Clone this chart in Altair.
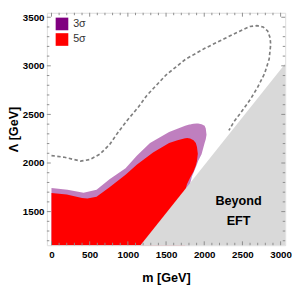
import altair as alt
import pandas as pd

# ---------------- data ----------------
# 5 sigma region (red): upper boundary and lower boundary vs m
red_m     = [0, 200, 400, 470, 590, 760, 970, 1120, 1330, 1540, 1650, 1750, 1760, 1775, 1815, 1860, 1890, 1905, 1916]
red_upper = [1691, 1677, 1640, 1634, 1652, 1750, 1880, 1985, 2108, 2205, 2235, 2254, 2256, 2257, 2252, 2235, 2205, 2165, 2095]
red_lower = [1154, 1154, 1154, 1154, 1154, 1154, 1154, 1154, 1154, 1154, 1154, 1154, 1740, 1783, 1847, 1912, 1975, 2020, 2095]

# 3 sigma region (purple)
pur_m     = [0, 210, 420, 590, 760, 970, 1120, 1290, 1540, 1750, 1805, 1815, 1840, 1860, 1900, 1920, 1965, 2005, 2020, 2030]
pur_upper = [1744, 1724, 1695, 1724, 1832, 1945, 2076, 2205, 2320, 2384, 2395, 2397, 2401, 2403, 2407, 2407, 2400, 2384, 2355, 2290]
pur_lower = [1154, 1154, 1154, 1154, 1154, 1154, 1154, 1154, 1154, 1154, 1154, 1790, 1864, 1900, 1978, 2020, 2091, 2205, 2245, 2290]

# dashed contour
dash_m = [0, 170, 380, 500, 634, 760, 866, 993, 1141, 1246, 1499, 1754, 2007, 2261, 2471, 2600, 2690,
          2770, 2830, 2862, 2870, 2850, 2790, 2700, 2600, 2480, 2385, 2323]
dash_L = [2076, 2059, 2020, 2035, 2091, 2189, 2310, 2440, 2579, 2693, 2905, 3067, 3180, 3278, 3359, 3405, 3413,
          3400, 3359, 3290, 3220, 3070, 2920, 2780, 2650, 2520, 2420, 2335]

# "Beyond EFT" boundary
edge_m = [1165, 3060]
edge_L = [1154, 3022]
edge_floor = [1154, 1154]

legend_labels = ["3σ", "5σ"]
legend_colors = ["#800080", "#FF0000"]

x_major = [0, 500, 1000, 1500, 2000, 2500, 3000]
x_minor = [v for v in range(100, 3000, 100) if v % 500 != 0]
y_major = [1500, 2000, 2500, 3000, 3500]
y_minor = [v for v in range(1200, 3500, 100) if v % 500 != 0]

annot_m = [2450]
annot_L = [1612]
annot_text = ["Beyond\nEFT"]

# ---------------- chart ----------------
W, H = 245, 239
X_DOM = [-60, 3060]
Y_DOM = [1154, 3546]
FONT = "Liberation Sans"

xs = alt.Scale(domain=X_DOM, nice=False, zero=False)
ys = alt.Scale(domain=Y_DOM, nice=False, zero=False)
cs = alt.Scale(domain=legend_labels, range=legend_colors)

x_axis = alt.Axis(values=x_major, format="d", ticks=False, domain=False, grid=False, labelFlush=False,
                  labelFont=FONT, labelFontWeight="bold", labelFontSize=10, labelColor="black",
                  labelPadding=5, title="m [GeV]", titleFont=FONT, titleFontSize=13,
                  titleFontWeight="bold", titleColor="black", titlePadding=12)
y_axis = alt.Axis(values=y_major, format="d", ticks=False, domain=False, grid=False, labelFlush=False,
                  labelFont=FONT, labelFontWeight="bold", labelFontSize=10, labelColor="black",
                  labelPadding=3, title="Λ [GeV]", titleFont=FONT, titleFontSize=13,
                  titleFontWeight="bold", titleColor="black", titlePadding=2)

pur_df = pd.DataFrame({"m": pur_m, "up": pur_upper, "lo": pur_lower, "s": legend_labels[0]})
red_df = pd.DataFrame({"m": red_m, "up": red_upper, "lo": red_lower, "s": legend_labels[1]})
edge_df = pd.DataFrame({"m": edge_m, "L": edge_L, "f": edge_floor})
dash_df = pd.DataFrame({"m": dash_m, "L": dash_L, "i": list(range(len(dash_m)))})
annot_df = pd.DataFrame({"m": annot_m, "L": annot_L, "t": annot_text})

legend = alt.Legend(orient="none", legendX=9, legendY=5, title=None, symbolType="square",
                    symbolSize=169, symbolStrokeWidth=0, symbolOpacity=1, labelFont=FONT,
                    labelFontSize=11, labelColor="#333333", rowPadding=3, padding=0,
                    labelOffset=5)

purple = alt.Chart(pur_df).mark_area(opacity=0.5, clip=True).encode(
    x=alt.X("m:Q", scale=xs, axis=x_axis),
    y=alt.Y("up:Q", scale=ys, axis=y_axis),
    y2="lo:Q",
    color=alt.Color("s:N", scale=cs, legend=legend),
)
red = alt.Chart(red_df).mark_area(opacity=1, clip=True).encode(
    x=alt.X("m:Q", scale=xs),
    y=alt.Y("up:Q", scale=ys),
    y2="lo:Q",
    color=alt.Color("s:N", scale=cs),
)
gray = alt.Chart(edge_df).mark_area(color="#d9d9d9", clip=True).encode(
    x=alt.X("m:Q", scale=xs),
    y=alt.Y("L:Q", scale=ys),
    y2="f:Q",
)
dashed = alt.Chart(dash_df).mark_line(color="#7f7f7f", strokeWidth=1.7, strokeDash=[3.5, 2.5],
                                      clip=True).encode(
    x=alt.X("m:Q", scale=xs),
    y=alt.Y("L:Q", scale=ys),
    order="i:Q",
)
text = alt.Chart(annot_df).mark_text(font=FONT, fontSize=13, fontWeight="bold", color="black",
                                     lineBreak="\n", lineHeight=21, align="center",
                                     baseline="middle").encode(
    x=alt.X("m:Q", scale=xs),
    y=alt.Y("L:Q", scale=ys),
    text="t:N",
)

TICK = "#8c8c8c"


def ticks_x(vals, length):
    d = pd.DataFrame({"v": vals})
    b = alt.Chart(d).mark_rule(color=TICK, strokeWidth=1).encode(
        x=alt.X("v:Q", scale=xs), y=alt.value(H), y2=alt.value(H - length))
    t = alt.Chart(d).mark_rule(color=TICK, strokeWidth=1).encode(
        x=alt.X("v:Q", scale=xs), y=alt.value(0), y2=alt.value(length))
    return [b, t]


def ticks_y(vals, length):
    d = pd.DataFrame({"v": vals})
    l = alt.Chart(d).mark_rule(color=TICK, strokeWidth=1).encode(
        y=alt.Y("v:Q", scale=ys), x=alt.value(0), x2=alt.value(length))
    r = alt.Chart(d).mark_rule(color=TICK, strokeWidth=1).encode(
        y=alt.Y("v:Q", scale=ys), x=alt.value(W), x2=alt.value(W - length))
    return [l, r]


tick_layers = ticks_x(x_major, 4) + ticks_x(x_minor, 2.5) + ticks_y(y_major, 4) + ticks_y(y_minor, 2.5)

chart = alt.layer(purple, red, gray, dashed, text, *tick_layers).properties(
    width=W, height=H,
    padding={"left": 40, "top": 1, "right": 7, "bottom": 37},
    autosize=alt.AutoSizeParams(type="none"),
).configure_view(stroke=TICK, strokeWidth=1).configure(background="white")

chart.save("out.html", embed_options={"renderer": "svg", "actions": False})
